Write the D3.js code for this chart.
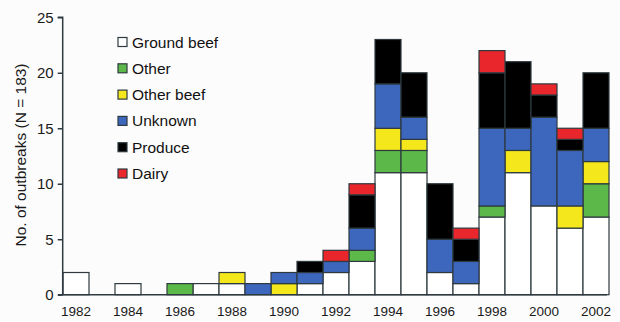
<!DOCTYPE html>
<html>
<head>
<meta charset="utf-8">
<script src="https://cdn.jsdelivr.net/npm/d3@7"></script>
<style>
  html, body { margin: 0; padding: 0; background: #fcfcfc; }
  svg { display: block; font-family: Arial, "Liberation Sans", sans-serif; }
</style>
</head>
<body>
<svg id="chart" width="620" height="322"></svg>
<script>
// Outbreak counts by year and food vehicle
const years = d3.range(1982, 2003);
const categories = ["Ground beef", "Other", "Other beef", "Unknown", "Produce", "Dairy"];
const groundBeef = [2, 0, 1, 0, 0, 1, 1, 0, 0, 1, 2, 3, 11, 11, 2, 1, 7, 11, 8, 6, 7];
const other      = [0, 0, 0, 0, 1, 0, 0, 0, 0, 0, 0, 1, 2, 2, 0, 0, 1, 0, 0, 0, 3];
const otherBeef  = [0, 0, 0, 0, 0, 0, 1, 0, 1, 0, 0, 0, 2, 1, 0, 0, 0, 2, 0, 2, 2];
const unknown    = [0, 0, 0, 0, 0, 0, 0, 1, 1, 1, 1, 2, 4, 2, 3, 2, 7, 2, 8, 5, 3];
const produce    = [0, 0, 0, 0, 0, 0, 0, 0, 0, 1, 0, 3, 4, 4, 5, 2, 5, 6, 2, 1, 5];
const dairy      = [0, 0, 0, 0, 0, 0, 0, 0, 0, 0, 1, 1, 0, 0, 0, 1, 2, 0, 1, 1, 0];
const yTicks = [0, 5, 10, 15, 20, 25];
const xTickYears = d3.range(1982, 2003, 2);
const colors = ["#ffffff", "#5cb848", "#f4e81c", "#3d66bd", "#000000", "#e8262b"];

const series = [groundBeef, other, otherBeef, unknown, produce, dairy];
const table = years.map((yr, i) => {
  const row = { year: yr };
  categories.forEach((c, k) => { row[c] = series[k][i]; });
  return row;
});
const stacked = d3.stack().keys(categories)(table);

const svg = d3.select("#chart");
const x = d3.scaleBand().domain(years).range([63, 609]).padding(0);
const y = d3.scaleLinear().domain([0, 25]).range([294.7, 17.3]);
const color = d3.scaleOrdinal().domain(categories).range(colors);
const axisColor = "#2e3a40";

// Stacked bars
svg.append("g")
  .selectAll("g")
  .data(stacked)
  .join("g")
    .attr("fill", d => color(d.key))
  .selectAll("rect")
  .data(d => d.filter(s => s[1] > s[0]))
  .join("rect")
    .attr("x", d => x(d.data.year))
    .attr("y", d => y(d[1]))
    .attr("width", x.bandwidth())
    .attr("height", d => y(d[0]) - y(d[1]))
    .attr("stroke", axisColor)
    .attr("stroke-width", 1.2);

// Y axis
const yAxis = svg.append("g")
  .attr("transform", "translate(62.7,0)")
  .call(d3.axisLeft(y).tickValues(yTicks).tickSize(5).tickPadding(4));
yAxis.select(".domain").attr("stroke", axisColor).attr("stroke-width", 1.5)
  .attr("d", `M-5,${y(25)}H0V${y(0)}`);
yAxis.selectAll(".tick line").attr("stroke", axisColor).attr("stroke-width", 1.5);
yAxis.selectAll(".tick text").attr("font-size", 15).attr("fill", "#1a1a1a")
  .attr("font-family", "Arial, 'Liberation Sans', sans-serif");

// X axis
const xAxis = svg.append("g")
  .attr("transform", `translate(0,${y(0)})`)
  .call(d3.axisBottom(x).tickValues(xTickYears).tickSize(0).tickPadding(12));
xAxis.select(".domain").attr("stroke", axisColor).attr("stroke-width", 1.5)
  .attr("d", `M58,0H607`);
xAxis.selectAll(".tick text").attr("font-size", 13.5).attr("fill", "#1a1a1a")
  .attr("font-family", "Arial, 'Liberation Sans', sans-serif");

// Y axis title
svg.append("text")
  .attr("transform", "translate(26,155) rotate(-90)")
  .attr("text-anchor", "middle")
  .attr("font-size", 15.5)
  .attr("fill", "#1a1a1a")
  .text("No. of outbreaks (N = 183)");

// Legend
const legend = svg.append("g")
  .selectAll("g")
  .data(categories)
  .join("g")
    .attr("transform", (d, i) => `translate(118,${42 + i * 26.3})`);
legend.append("rect")
  .attr("x", 0).attr("y", -4.5)
  .attr("width", 9).attr("height", 9)
  .attr("fill", d => color(d))
  .attr("stroke", axisColor)
  .attr("stroke-width", 1.2);
legend.append("text")
  .attr("x", 14).attr("y", 0)
  .attr("dy", "0.36em")
  .attr("font-size", 15.5)
  .attr("fill", "#111")
  .text(d => d);
</script>
</body>
</html>
